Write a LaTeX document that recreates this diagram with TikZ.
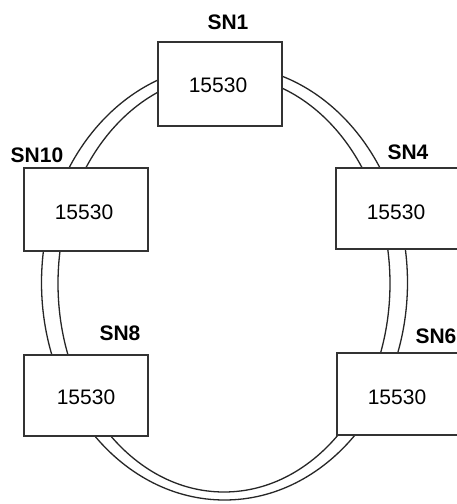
\documentclass[tikz,border=0pt]{standalone}
\usepackage{fontspec}
\setmainfont{Liberation Sans}
\begin{document}
\begin{tikzpicture}[x=1pt,y=-1pt,
  ring/.style={line width=1.3pt,black!85},
  nodebox/.style={draw=black!80,line width=1.1pt,fill=white},
  num/.style={font=\fontsize{21}{24}\selectfont,inner sep=0pt},
  lbl/.style={font=\fontsize{21}{24}\selectfont\bfseries,inner sep=0pt}]
\clip (0,0) rectangle (457,504);
\fill[white] (0,0) rectangle (457,504);
% ring
\draw[ring] (224.5,282.6) ellipse [x radius=183, y radius=217.4];
\draw[ring] (224,283.5) ellipse [x radius=166, y radius=208.5];
% boxes
\draw[nodebox] (158,42) rectangle (282,126);
\draw[nodebox] (24,168) rectangle (148,251);
\draw[nodebox] (336,168) rectangle (462,249);
\draw[nodebox] (24,355) rectangle (148,436);
\draw[nodebox] (337,353) rectangle (462,435);
% numbers
\node[num] (n1) at (218,85) {15530};
\node[num] (n10) at (84,212) {15530};
\node[num] (n4) at (396,212) {15530};
\node[num] (n8) at (86,397) {15530};
\node[num] (n6) at (397,397) {15530};
% labels
\node[lbl] (l1) at (228,22) {SN1};
\node[lbl] (l10) at (37,155) {SN10};
\node[lbl] (l4) at (408,152) {SN4};
\node[lbl] (l8) at (120,333) {SN8};
\node[lbl] (l6) at (436,336) {SN6};
\end{tikzpicture}
\end{document}
